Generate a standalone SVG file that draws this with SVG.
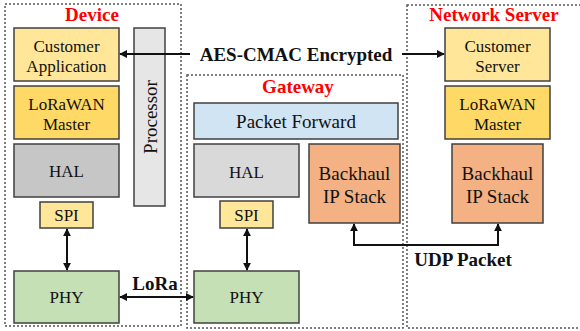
<svg xmlns="http://www.w3.org/2000/svg" width="580" height="331" viewBox="0 0 580 331">
  <style>
    .zone { fill: none; stroke: #555; stroke-width: 1.5; stroke-dasharray: 2 2; }
    .blk { stroke: #404040; stroke-width: 1.5; }
    .t { font-family: "Liberation Serif", "Times New Roman", serif; font-size: 17px; fill: #111; text-anchor: middle; }
    .tl { font-size: 19px; }
    .title { font-family: "Liberation Serif", "Times New Roman", serif; font-size: 19px; font-weight: bold; fill: #ff0000; text-anchor: middle; }
    .lbl { font-family: "Liberation Serif", "Times New Roman", serif; font-size: 19px; font-weight: bold; fill: #111; text-anchor: middle; }
    .wire { fill: none; stroke: #111; stroke-width: 2; }
  </style>
  <defs>
    <marker id="ah" viewBox="0 0 10 10" refX="9" refY="5" markerWidth="4" markerHeight="4" orient="auto-start-reverse">
      <path d="M0,0 L10,5 L0,10 z" fill="#111"/>
    </marker>
  </defs>
  <rect width="580" height="331" fill="#fff"/>

  <!-- zones -->
  <g id="device">
    <rect class="zone" x="5" y="4" width="176" height="322"/>
    <text class="title" x="92" y="21">Device</text>
  </g>
  <g id="gateway">
    <rect class="zone" x="187" y="75" width="216" height="253"/>
    <text class="title" x="298" y="93">Gateway</text>
  </g>
  <g id="network-server">
    <rect class="zone" x="407" y="5" width="180" height="323"/>
    <text class="title" x="494" y="21">Network Server</text>
  </g>

  <!-- device stack -->
  <g id="dev-app">
    <rect class="blk" x="14" y="28" width="105" height="53" fill="#ffe699"/>
    <text class="t" x="66.5" y="52">Customer</text>
    <text class="t" x="66.5" y="72">Application</text>
  </g>
  <g id="dev-lorawan">
    <rect class="blk" x="14" y="86" width="105" height="53" fill="#ffd966"/>
    <text class="t" x="66.5" y="110">LoRaWAN</text>
    <text class="t" x="66.5" y="130">Master</text>
  </g>
  <g id="dev-hal">
    <rect class="blk" x="14" y="144" width="105" height="53" fill="#c6c6c6"/>
    <text class="t" x="66.5" y="177">HAL</text>
  </g>
  <g id="dev-processor">
    <rect class="blk" x="134" y="28" width="31" height="178" fill="#e7e6e6"/>
    <text class="t tl" transform="translate(157,117) rotate(-90)">Processor</text>
  </g>
  <g id="dev-spi">
    <rect class="blk" x="40" y="202" width="53" height="26" fill="#ffe699"/>
    <text class="t" x="66.5" y="221">SPI</text>
  </g>
  <g id="dev-phy">
    <rect class="blk" x="14" y="271" width="105" height="52" fill="#c5e0b4"/>
    <text class="t" x="66.5" y="303">PHY</text>
  </g>

  <!-- gateway stack -->
  <g id="gw-forward">
    <rect class="blk" x="194" y="103" width="204" height="36" fill="#d0e4f3"/>
    <text class="t tl" x="296" y="128">Packet Forward</text>
  </g>
  <g id="gw-hal">
    <rect class="blk" x="194" y="144" width="105" height="53" fill="#d9d9d9"/>
    <text class="t" x="246.5" y="178">HAL</text>
  </g>
  <g id="gw-backhaul">
    <rect class="blk" x="309" y="144" width="91" height="79" fill="#f4b183"/>
    <text class="t tl" x="354.5" y="180">Backhaul</text>
    <text class="t tl" x="354.5" y="203">IP Stack</text>
  </g>
  <g id="gw-spi">
    <rect class="blk" x="220" y="201" width="53" height="27" fill="#ffe699"/>
    <text class="t" x="246.5" y="221">SPI</text>
  </g>
  <g id="gw-phy">
    <rect class="blk" x="194" y="271" width="105" height="52" fill="#c5e0b4"/>
    <text class="t" x="246.5" y="303">PHY</text>
  </g>

  <!-- network server stack -->
  <g id="ns-server">
    <rect class="blk" x="445" y="28" width="105" height="53" fill="#ffe699"/>
    <text class="t" x="497.5" y="52">Customer</text>
    <text class="t" x="497.5" y="72">Server</text>
  </g>
  <g id="ns-lorawan">
    <rect class="blk" x="445" y="86" width="105" height="53" fill="#ffd966"/>
    <text class="t" x="497.5" y="110">LoRaWAN</text>
    <text class="t" x="497.5" y="130">Master</text>
  </g>
  <g id="ns-backhaul">
    <rect class="blk" x="452" y="144" width="91" height="79" fill="#f4b183"/>
    <text class="t tl" x="497.5" y="180">Backhaul</text>
    <text class="t tl" x="497.5" y="203">IP Stack</text>
  </g>

  <!-- connectors -->
  <g id="connectors">
    <line class="wire" x1="190" y1="54" x2="120" y2="54" marker-end="url(#ah)"/>
    <line class="wire" x1="402" y1="54" x2="444" y2="54" marker-end="url(#ah)"/>
    <text class="lbl" x="296" y="61">AES-CMAC Encrypted</text>

    <line class="wire" x1="67" y1="229" x2="67" y2="270" marker-start="url(#ah)" marker-end="url(#ah)"/>
    <line class="wire" x1="247" y1="229" x2="247" y2="270" marker-start="url(#ah)" marker-end="url(#ah)"/>

    <line class="wire" x1="120" y1="297" x2="193" y2="297" marker-start="url(#ah)" marker-end="url(#ah)"/>
    <text class="lbl" x="155" y="290">LoRa</text>

    <polyline class="wire" points="354,224 354,245 498,245 498,224" marker-start="url(#ah)" marker-end="url(#ah)"/>
    <text class="lbl" x="463" y="266">UDP Packet</text>
  </g>
</svg>
